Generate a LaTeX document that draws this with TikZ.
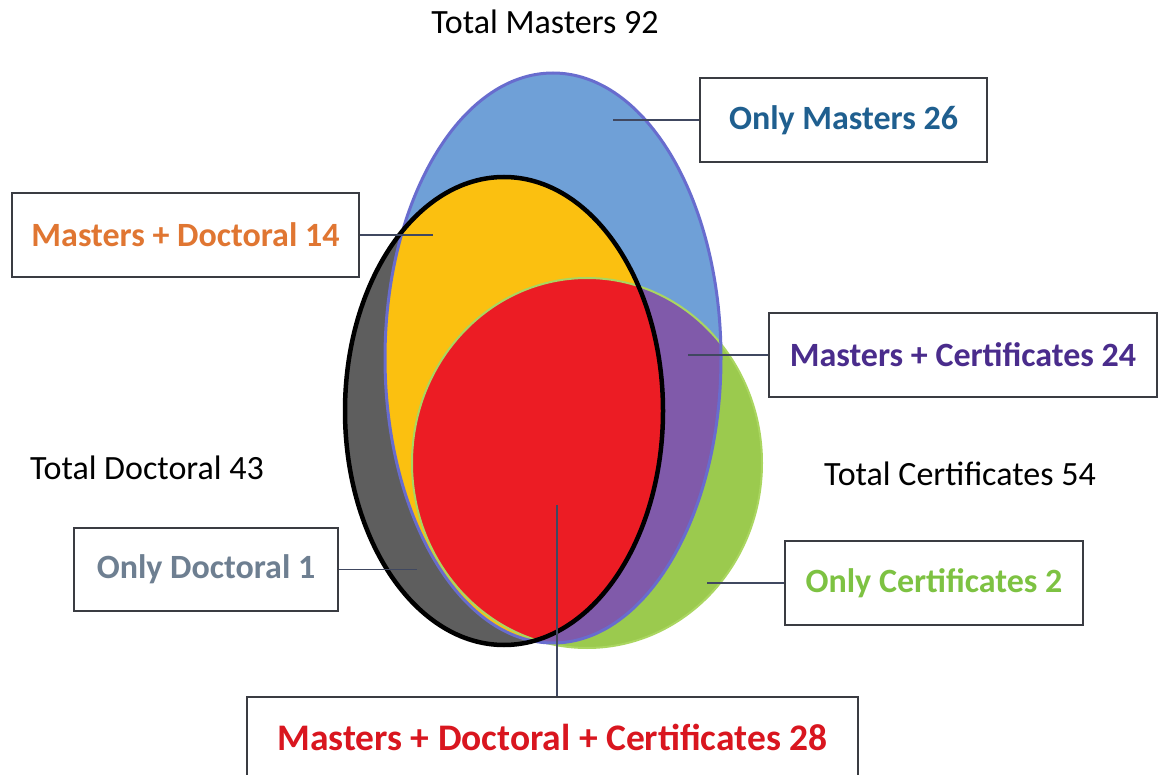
\documentclass[tikz,border=0pt]{standalone}
\usepackage{fontspec}
\setmainfont{Carlito}
\definecolor{cBlue}{RGB}{111,160,215}
\definecolor{cBlueLine}{RGB}{104,108,206}
\definecolor{cYel}{RGB}{251,192,16}
\definecolor{cRed}{RGB}{236,28,36}
\definecolor{cGray}{RGB}{94,94,94}
\definecolor{cPur}{RGB}{128,90,170}
\definecolor{cGreen}{RGB}{155,202,78}
\definecolor{cGreenLine}{RGB}{170,214,96}
\definecolor{tOM}{RGB}{31,95,143}
\definecolor{tMD}{RGB}{224,118,50}
\definecolor{tMC}{RGB}{74,44,140}
\definecolor{tOD}{RGB}{110,127,145}
\definecolor{tOC}{RGB}{125,194,66}
\definecolor{tMDC}{RGB}{217,22,31}
\definecolor{cBox}{RGB}{58,60,66}
\definecolor{cConn}{RGB}{64,72,96}
\tikzset{
  lbl/.style={draw=cBox, line width=2pt, fill=white, inner sep=0pt, font=\fontsize{34}{40}\selectfont\bfseries},
  tot/.style={inner sep=0pt, font=\fontsize{34}{40}\selectfont},
  conn/.style={draw=cConn, line width=1.6pt}
}
\begin{document}
\begin{tikzpicture}[x=1pt,y=-1pt]
\clip (0,0) rectangle (1160,775);
\fill[white] (0,0) rectangle (1160,775);
% base fills
\fill[cGray] (504,411) ellipse [x radius=159, y radius=234];
\fill[cGreen] (587,463) ellipse [x radius=175, y radius=185];
\fill[cBlue] (553,358) ellipse [x radius=168, y radius=285];
\begin{scope}
  \clip (553,358) ellipse [x radius=168, y radius=285];
  \fill[cYel] (504,411) ellipse [x radius=159, y radius=234];
  \fill[cPur] (587,463) ellipse [x radius=175, y radius=185];
  \clip (504,411) ellipse [x radius=159, y radius=234];
  \fill[cRed] (587,463) ellipse [x radius=175, y radius=185];
\end{scope}
% outlines
\draw[cGreenLine, line width=2pt] (587,463) ellipse [x radius=175, y radius=185];
\draw[cBlueLine, line width=3pt] (553,358) ellipse [x radius=168, y radius=285];
\draw[black, line width=4.5pt] (504,411) ellipse [x radius=159, y radius=234];

% totals
\node[tot] (totM) at (545,22) {Total Masters 92};
\node[tot] (totD) at (147,468) {Total Doctoral 43};
\node[tot] (totC) at (960,474) {Total Certificates 54};

% label boxes
\node[lbl, text=tOM, minimum width=287pt, minimum height=84pt] (onlyM) at (843.5,120) {Only Masters 26};
\node[lbl, text=tMD, minimum width=347pt, minimum height=84pt] (md) at (185.5,235) {Masters + Doctoral 14};
\node[lbl, text=tMC, minimum width=388pt, minimum height=84pt] (mc) at (963,355) {Masters + Certificates 24};
\node[lbl, text=tOD, minimum width=264pt, minimum height=83pt] (onlyD) at (206,569.5) {Only Doctoral 1};
\node[lbl, text=tOC, minimum width=298pt, minimum height=84pt] (onlyC) at (934,583) {Only Certificates 2};
\node[lbl, text=tMDC, minimum width=611pt, minimum height=80pt, font=\fontsize{37.5}{44}\selectfont\bfseries] (mdc) at (552.5,737) {Masters + Doctoral + Certificates 28};

% connector points
\coordinate (pOM) at (613,120);
\coordinate (pMD) at (433,235);
\coordinate (pMC) at (688,355);
\coordinate (pOD) at (417,569.5);
\coordinate (pOC) at (707,583);
\coordinate (pMDC) at (557,505);

\draw[conn] (pOM) -- (onlyM.west);
\draw[conn] (md.east) -- (pMD);
\draw[conn] (pMC) -- (mc.west);
\draw[conn] (onlyD.east) -- (pOD);
\draw[conn] (pOC) -- (onlyC.west);
\draw[conn] (pMDC) -- (pMDC |- mdc.north);
\end{tikzpicture}
\end{document}
